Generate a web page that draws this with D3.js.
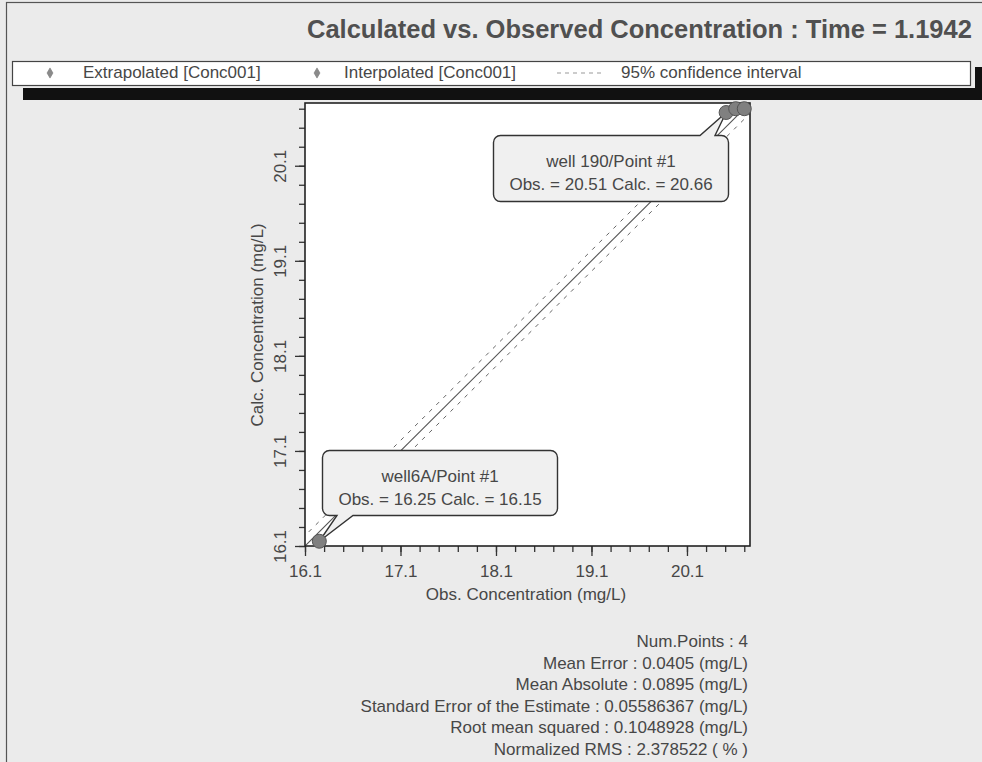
<!DOCTYPE html>
<html>
<head>
<meta charset="utf-8">
<script src="https://cdn.jsdelivr.net/npm/d3@7"></script>
<style>
  html, body { margin: 0; padding: 0; background: #ebebeb; }
  svg { display: block; font-family: "Liberation Sans", Arial, sans-serif; }
</style>
</head>
<body>
<svg id="chart" width="982" height="762"></svg>
<script>
// ---- data ----
const titleText = "Calculated vs. Observed Concentration : Time = 1.1942";
const wells = ["well6A", "well 190", "well A", "well B"];
const observed = [16.25, 20.51, 20.61, 20.70];
const calculated = [16.15, 20.66, 20.70, 20.70];
const majorTicks = [16.1, 17.1, 18.1, 19.1, 20.1];
const axisDomain = [16.1, 20.76];
const confHalfWidth = 0.1095;
const legendLabels = ["Extrapolated [Conc001]", "Interpolated [Conc001]", "95% confidence interval"];
const statLines = [
  "Num.Points : 4",
  "Mean Error : 0.0405 (mg/L)",
  "Mean Absolute : 0.0895 (mg/L)",
  "Standard Error of the Estimate : 0.05586367 (mg/L)",
  "Root mean squared : 0.1048928 (mg/L)",
  "Normalized RMS : 2.378522 ( % )"
];
const callouts = [
  { idx: 1, label: "well 190/Point #1", line2: "Obs. = 20.51 Calc. = 20.66" },
  { idx: 0, label: "well6A/Point #1", line2: "Obs. = 16.25 Calc. = 16.15" }
];

// ---- layout ----
const svg = d3.select("#chart");
const L = 305, R = 750, T = 103, B = 546;
const x = d3.scaleLinear().domain(axisDomain).range([L, R]);
const y = d3.scaleLinear().domain(axisDomain).range([B, T]);
const minorTicks = d3.range(0, 24).map(i => +(16.1 + i * 0.2).toFixed(1)).filter(v => v <= axisDomain[1]);
const txt = "#474747";

// outer frame
svg.append("rect").attr("x", 6.5).attr("y", 2.5).attr("width", 990).attr("height", 800)
  .attr("fill", "#ebebeb").attr("stroke", "#555").attr("stroke-width", 1.2);

// title
svg.append("text").attr("x", 307).attr("y", 38)
  .attr("font-size", 25.5).attr("font-weight", "bold").attr("fill", "#505050")
  .text(titleText);

// legend
svg.append("rect").attr("x", 23).attr("y", 88).attr("width", 970).attr("height", 12).attr("fill", "#111");
svg.append("rect").attr("x", 975).attr("y", 67).attr("width", 20).attr("height", 33).attr("fill", "#111");
svg.append("rect").attr("x", 12.5).attr("y", 61.5).attr("width", 958).attr("height", 24)
  .attr("fill", "#fff").attr("stroke", "#444").attr("stroke-width", 1.2);
const diamond = d3.symbol().type(d3.symbolDiamond).size(30);
[[50, 0], [317, 1]].forEach(([dx, i]) => {
  svg.append("path").attr("d", diamond()).attr("transform", `translate(${dx},73)`)
    .attr("fill", "#8a8a8a").attr("stroke", "#777").attr("stroke-width", 0.6);
});
svg.append("line").attr("x1", 557).attr("x2", 602).attr("y1", 73).attr("y2", 73)
  .attr("stroke", "#999").attr("stroke-dasharray", "4,4");
[[83, 0], [344, 1], [621, 2]].forEach(([lx, i]) => {
  svg.append("text").attr("x", lx).attr("y", 78).attr("font-size", 17).attr("fill", txt).text(legendLabels[i]);
});

// plot area
svg.append("rect").attr("x", L).attr("y", T).attr("width", R - L).attr("height", B - T).attr("fill", "#fff");
svg.append("clipPath").attr("id", "clip").append("rect")
  .attr("x", L).attr("y", T).attr("width", R - L).attr("height", B - T);
const g = svg.append("g").attr("clip-path", "url(#clip)");

// 1:1 line and confidence band
const d0 = axisDomain[0] - 1, d1 = axisDomain[1] + 1;
g.append("line").attr("x1", x(axisDomain[0])).attr("y1", y(axisDomain[0]))
  .attr("x2", x(axisDomain[1])).attr("y2", y(axisDomain[1]))
  .attr("stroke", "#555").attr("stroke-width", 1.1);
[confHalfWidth, -confHalfWidth].forEach(off => {
  g.append("line").attr("x1", x(d0)).attr("y1", y(d0 + off))
    .attr("x2", x(d1)).attr("y2", y(d1 + off))
    .attr("stroke", "#666").attr("stroke-width", 1).attr("stroke-dasharray", "4,6");
});

// axes
const xMinor = d3.axisBottom(x).tickValues(minorTicks).tickSize(6).tickFormat("");
const xMajor = d3.axisBottom(x).tickValues(majorTicks).tickSize(10).tickPadding(5).tickFormat(d3.format(".1f"));
const yMinor = d3.axisLeft(y).tickValues(minorTicks).tickSize(6).tickFormat("");
const yMajor = d3.axisLeft(y).tickValues(majorTicks).tickSize(10).tickFormat(d3.format(".1f"));

[xMinor, xMajor].forEach(a => {
  const ag = svg.append("g").attr("transform", `translate(0,${B})`).call(a);
  ag.select(".domain").remove();
  ag.selectAll("line").attr("stroke", "#333").attr("stroke-width", 1.3);
  ag.selectAll("text").attr("font-size", 17).attr("fill", txt).attr("font-family", "Liberation Sans, Arial, sans-serif")
    .attr("dy", null).attr("y", 31);
});
[yMinor, yMajor].forEach(a => {
  const ag = svg.append("g").attr("transform", `translate(${L},0)`).call(a);
  ag.select(".domain").remove();
  ag.selectAll("line").attr("stroke", "#333").attr("stroke-width", 1.3);
  ag.selectAll("text").attr("font-size", 17).attr("fill", txt).attr("font-family", "Liberation Sans, Arial, sans-serif")
    .attr("transform", "rotate(-90)").attr("x", 0).attr("dy", null).attr("y", -19)
    .attr("text-anchor", "middle");
});

// plot frame
svg.append("rect").attr("x", L).attr("y", T).attr("width", R - L).attr("height", B - T)
  .attr("fill", "none").attr("stroke", "#222").attr("stroke-width", 1.6);

// axis titles
svg.append("text").attr("x", 526).attr("y", 600).attr("text-anchor", "middle")
  .attr("font-size", 17).attr("fill", txt).text("Obs. Concentration (mg/L)");
svg.append("text").attr("transform", "translate(263,325) rotate(-90)").attr("text-anchor", "middle")
  .attr("font-size", 17).attr("fill", txt).text("Calc. Concentration (mg/L)");

// callouts
const boxes = [
  { x0: 493.5, y0: 135.5, x1: 728.5, y1: 201.5, edge: "top", b1: 700, b2: 715 },
  { x0: 322.5, y0: 450.5, x1: 557.5, y1: 515.5, edge: "bottom", b1: 353, b2: 337 }
];
callouts.forEach((c, k) => {
  const b = boxes[k], r = 7;
  const tx = x(observed[c.idx]), ty = y(calculated[c.idx]);
  const p = d3.path();
  p.moveTo(b.x0 + r, b.y0);
  if (b.edge === "top") { p.lineTo(b.b1, b.y0); p.lineTo(tx, ty); p.lineTo(b.b2, b.y0); }
  p.lineTo(b.x1 - r, b.y0);
  p.arcTo(b.x1, b.y0, b.x1, b.y0 + r, r);
  p.lineTo(b.x1, b.y1 - r);
  p.arcTo(b.x1, b.y1, b.x1 - r, b.y1, r);
  if (b.edge === "bottom") { p.lineTo(b.b1, b.y1); p.lineTo(tx, ty); p.lineTo(b.b2, b.y1); }
  p.lineTo(b.x0 + r, b.y1);
  p.arcTo(b.x0, b.y1, b.x0, b.y1 - r, r);
  p.lineTo(b.x0, b.y0 + r);
  p.arcTo(b.x0, b.y0, b.x0 + r, b.y0, r);
  p.closePath();
  svg.append("path").attr("d", p.toString()).attr("fill", "#f0f0f0")
    .attr("stroke", "#333").attr("stroke-width", 1.4);
  const cx = (b.x0 + b.x1) / 2;
  svg.append("text").attr("x", cx).attr("y", b.y0 + 31).attr("text-anchor", "middle")
    .attr("font-size", 17).attr("fill", txt).text(c.label);
  svg.append("text").attr("x", cx).attr("y", b.y0 + 54).attr("text-anchor", "middle")
    .attr("font-size", 17).attr("fill", txt).text(c.line2);
});

// points
svg.append("g").selectAll("circle").data(observed).join("circle")
  .attr("cx", (d) => x(d)).attr("cy", (d, i) => y(calculated[i])).attr("r", 7)
  .attr("fill", "#808080").attr("stroke", "#555").attr("stroke-width", 1);

// stats
svg.append("g").selectAll("text").data(statLines).join("text")
  .attr("x", 748).attr("y", (d, i) => 647 + i * 21.6).attr("text-anchor", "end")
  .attr("font-size", 17).attr("fill", txt).text(d => d);
</script>
</body>
</html>
